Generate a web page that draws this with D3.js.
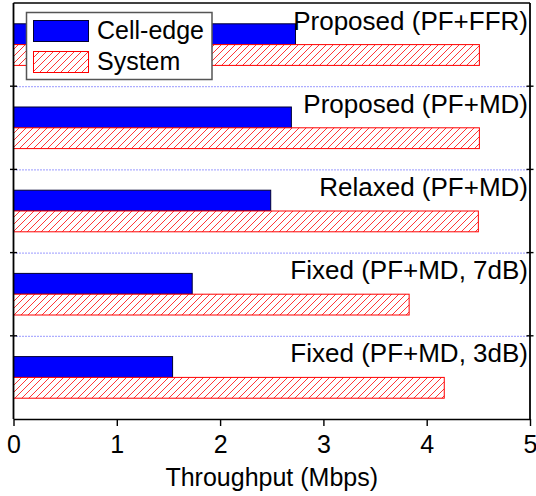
<!DOCTYPE html>
<html>
<head>
<meta charset="utf-8">
<script src="https://cdn.jsdelivr.net/npm/d3@7"></script>
<style>
  body { margin: 0; background: #fff; }
  text { font-family: "Liberation Sans", Arial, sans-serif; fill: #000; }
</style>
</head>
<body>
<script>
var categories = ["Proposed (PF+FFR)", "Proposed (PF+MD)", "Relaxed (PF+MD)", "Fixed (PF+MD, 7dB)", "Fixed (PF+MD, 3dB)"];
var cellEdge = [2.73, 2.69, 2.49, 1.73, 1.54];
var system = [4.51, 4.51, 4.50, 3.83, 4.17];
var xTicks = [0, 1, 2, 3, 4, 5];

var width = 536, height = 496;
var margin = {top: 3, right: 6, bottom: 77, left: 13.5};

var svg = d3.select("body").append("svg")
    .attr("width", width)
    .attr("height", height);

// hatch for the System bars
var pat = svg.append("defs").append("pattern")
    .attr("id", "hatch")
    .attr("patternUnits", "userSpaceOnUse")
    .attr("width", 7)
    .attr("height", 7);
pat.append("rect").attr("width", 7).attr("height", 7).attr("fill", "#fff");
pat.append("path")
    .attr("d", "M-1,1 l2,-2 M0,7 l7,-7 M6,8 l2,-2")
    .attr("stroke", "#ff2020")
    .attr("stroke-width", 0.9);

var x = d3.scaleLinear()
    .domain([0, 5])
    .range([margin.left, width - margin.right]);

var y = d3.scaleBand()
    .domain(categories)
    .range([margin.top, height - margin.bottom])
    .padding(0);

var bw = y.bandwidth();
var barH = bw * 0.25;

// dotted separators between groups
svg.append("g")
    .selectAll("line")
    .data(categories.slice(1))
    .enter().append("line")
    .attr("x1", x(0))
    .attr("x2", x(5))
    .attr("y1", function(d) { return y(d) + 0.5; })
    .attr("y2", function(d) { return y(d) + 0.5; })
    .attr("stroke", "#3333ff")
    .attr("stroke-width", 1)
    .attr("stroke-dasharray", "1,2");

// Cell-edge bars
svg.append("g")
    .selectAll("rect")
    .data(categories)
    .enter().append("rect")
    .attr("x", x(0))
    .attr("y", function(d) { return y(d) + bw / 2 - barH; })
    .attr("width", function(d, i) { return x(cellEdge[i]) - x(0); })
    .attr("height", barH)
    .attr("fill", "#0000ff")
    .attr("stroke", "#000033")
    .attr("stroke-width", 1);

// System bars
svg.append("g")
    .selectAll("rect")
    .data(categories)
    .enter().append("rect")
    .attr("x", x(0))
    .attr("y", function(d) { return y(d) + bw / 2; })
    .attr("width", function(d, i) { return x(system[i]) - x(0); })
    .attr("height", barH)
    .attr("fill", "url(#hatch)")
    .attr("stroke", "#ff0000")
    .attr("stroke-width", 1);

// group labels
svg.append("g")
    .selectAll("text")
    .data(categories)
    .enter().append("text")
    .attr("x", 528)
    .attr("y", function(d) { return y(d) + 26.5; })
    .attr("text-anchor", "end")
    .style("font-size", "26px")
    .text(function(d) { return d; });

// bottom axis
var xAxis = svg.append("g")
    .attr("transform", "translate(0," + (height - margin.bottom) + ")")
    .call(d3.axisBottom(x).tickValues(xTicks).tickFormat(d3.format("d"))
        .tickSize(7).tickSizeOuter(0).tickPadding(9));
xAxis.select(".domain").attr("stroke-width", 1.6);
xAxis.selectAll(".tick line").attr("stroke-width", 1.4);
xAxis.selectAll(".tick text")
    .style("font-size", "25px")
    .style("font-family", "'Liberation Sans', Arial, sans-serif");

// left / right axes with crossing ticks at group boundaries
var bounds = categories.slice(1).map(function(d) { return y(d); });
[x(0), x(5)].forEach(function(px) {
    var g = svg.append("g");
    g.append("line")
        .attr("x1", px).attr("x2", px)
        .attr("y1", margin.top).attr("y2", height - margin.bottom)
        .attr("stroke", "#000").attr("stroke-width", 1.8);
    g.selectAll(".tk")
        .data(bounds)
        .enter().append("line")
        .attr("x1", px - 3.5).attr("x2", px + 3.5)
        .attr("y1", function(d) { return d; })
        .attr("y2", function(d) { return d; })
        .attr("stroke", "#000").attr("stroke-width", 1.4);
});

// top border
svg.append("line")
    .attr("x1", x(0)).attr("x2", x(5))
    .attr("y1", margin.top).attr("y2", margin.top)
    .attr("stroke", "#000").attr("stroke-width", 1.6);

// x axis title
svg.append("text")
    .attr("x", (x(0) + x(5)) / 2)
    .attr("y", 486)
    .attr("text-anchor", "middle")
    .style("font-size", "25px")
    .text("Throughput (Mbps)");

// legend
var legend = svg.append("g");
legend.append("rect")
    .attr("x", 26.5).attr("y", 12.5)
    .attr("width", 185.5).attr("height", 67)
    .attr("fill", "#fff")
    .attr("stroke", "#555")
    .attr("stroke-width", 1.5);
legend.append("rect")
    .attr("x", 33.5).attr("y", 20.5)
    .attr("width", 55).attr("height", 21)
    .attr("fill", "#0000ff")
    .attr("stroke", "#000033");
legend.append("rect")
    .attr("x", 33.5).attr("y", 51.5)
    .attr("width", 55).attr("height", 21)
    .attr("fill", "url(#hatch)")
    .attr("stroke", "#ff0000");
legend.append("text")
    .attr("x", 97).attr("y", 39)
    .style("font-size", "25px")
    .text("Cell-edge");
legend.append("text")
    .attr("x", 97).attr("y", 70)
    .style("font-size", "25px")
    .text("System");
</script>
</body>
</html>
